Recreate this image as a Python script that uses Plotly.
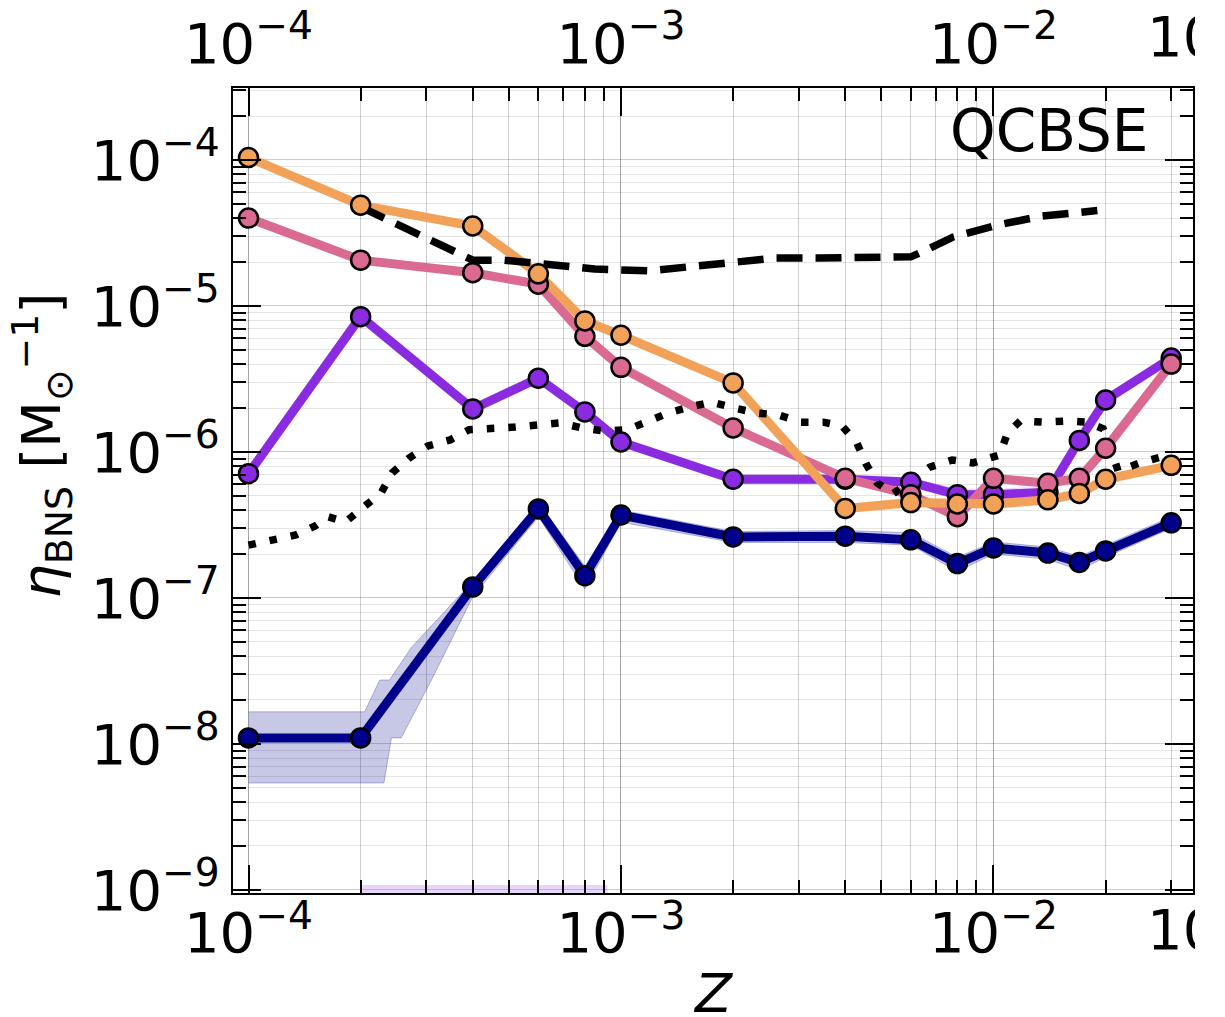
import plotly.graph_objects as go

# ---------------- data ----------------
metallicity = [1e-4, 2e-4, 4e-4, 6e-4, 8e-4, 1e-3, 2e-3, 4e-3, 6e-3, 8e-3,
               1e-2, 1.4e-2, 1.7e-2, 2e-2, 3e-2]

eta_orange = [1.04e-4, 4.9e-5, 3.53e-5, 1.66e-5, 7.9e-6, 6.3e-6, 2.97e-6, 4.1e-7,
              4.5e-7, 4.4e-7, 4.4e-7, 4.7e-7, 5.2e-7, 6.5e-7, 8.1e-7]
eta_pink = [4.0e-5, 2.06e-5, 1.69e-5, 1.41e-5, 6.2e-6, 3.8e-6, 1.46e-6, 6.6e-7,
            5.1e-7, 3.6e-7, 6.6e-7, 6.1e-7, 6.6e-7, 1.06e-6, 4.0e-6]
eta_purple = [7.1e-7, 8.45e-6, 1.97e-6, 3.2e-6, 1.88e-6, 1.17e-6, 6.5e-7, 6.5e-7,
              6.2e-7, 5.1e-7, 5.1e-7, 5.3e-7, 1.2e-6, 2.27e-6, 4.4e-6]
eta_navy = [1.1e-8, 1.1e-8, 1.19e-7, 4.07e-7, 1.42e-7, 3.7e-7, 2.62e-7, 2.65e-7,
            2.5e-7, 1.72e-7, 2.2e-7, 2.03e-7, 1.75e-7, 2.1e-7, 3.27e-7]

# uncertainty band of the navy series (upper and lower edges)
navy_hi_z = [1e-4, 2.05e-4, 2.25e-4, 2.39e-4, 2.74e-4, 4e-4, 6e-4, 8e-4, 1e-3, 2e-3,
             4e-3, 6e-3, 8e-3, 1e-2, 1.4e-2, 1.7e-2, 2e-2, 3e-2]
navy_hi = [1.66e-8, 1.66e-8, 2.74e-8, 2.74e-8, 4.6e-8, 1.3e-7, 4.5e-7, 1.65e-7, 4.0e-7,
           2.85e-7, 2.9e-7, 2.8e-7, 1.9e-7, 2.42e-7, 2.23e-7, 1.93e-7, 2.3e-7, 3.6e-7]
navy_lo_z = [1e-4, 2.31e-4, 2.42e-4, 2.57e-4, 3.1e-4, 4e-4, 6e-4, 8e-4, 1e-3, 2e-3,
             4e-3, 6e-3, 8e-3, 1e-2, 1.4e-2, 1.7e-2, 2e-2, 3e-2]
navy_lo = [5.4e-9, 5.4e-9, 1.1e-8, 1.1e-8, 2.74e-8, 1.02e-7, 3.6e-7, 1.15e-7, 3.3e-7,
           2.4e-7, 2.4e-7, 2.3e-7, 1.52e-7, 2.0e-7, 1.84e-7, 1.55e-7, 1.9e-7, 3.0e-7]

# faint uncertainty halos of the purple and orange series
purple_band_z = [2e-3, 4e-3, 6e-3, 8e-3, 1e-2, 1.4e-2]
purple_band_hi = [7.0e-7, 7.0e-7, 6.7e-7, 5.6e-7, 5.6e-7, 5.8e-7]
purple_band_lo = [6.0e-7, 6.0e-7, 5.7e-7, 4.7e-7, 4.7e-7, 4.9e-7]
orange_band_z = [4e-3, 6e-3, 8e-3, 1e-2, 1.4e-2, 1.7e-2, 2e-2, 3e-2]
orange_band_hi = [4.4e-7, 4.85e-7, 4.75e-7, 4.75e-7, 5.05e-7, 5.6e-7, 7.0e-7, 8.7e-7]
orange_band_lo = [3.8e-7, 4.15e-7, 4.05e-7, 4.05e-7, 4.35e-7, 4.8e-7, 6.0e-7, 7.5e-7]

# faint band along the bottom edge
strip_z = [2e-4, 9.2e-4]
strip_hi = [1.08e-9, 1.08e-9]
strip_lo = [1e-10, 1e-10]

# black dashed curve
dashed_z = [2.0e-4, 4.0e-4, 4.85e-4, 6.5e-4, 8.5e-4, 1.19e-3, 1.5e-3, 1.98e-3, 2.6e-3,
            3.4e-3, 4.6e-3, 6.0e-3, 6.6e-3, 7.8e-3, 1.03e-2, 1.35e-2, 1.9e-2]
dashed_eta = [4.77e-5, 2.06e-5, 2.06e-5, 1.91e-5, 1.79e-5, 1.74e-5, 1.85e-5, 2.0e-5, 2.13e-5,
              2.13e-5, 2.13e-5, 2.17e-5, 2.42e-5, 2.97e-5, 3.59e-5, 4.13e-5, 4.5e-5]

# black dotted curve
dotted_z = [1.0e-4, 1.18e-4, 1.34e-4, 1.51e-4, 1.64e-4, 1.82e-4, 2.03e-4, 2.27e-4, 2.43e-4,
            2.70e-4, 3.03e-4, 3.48e-4, 3.91e-4, 4.53e-4, 5.19e-4, 5.98e-4, 6.86e-4, 7.86e-4,
            9.0e-4, 1.04e-3, 1.17e-3, 1.34e-3, 1.53e-3, 1.75e-3, 2.01e-3, 2.32e-3, 2.65e-3,
            3.04e-3, 3.49e-3, 3.92e-3, 4.30e-3, 4.55e-3, 4.87e-3, 5.37e-3, 6.75e-3, 7.74e-3,
            8.81e-3, 1.04e-2, 1.09e-2, 1.18e-2, 1.36e-2, 1.57e-2, 1.79e-2, 1.97e-2, 2.07e-2,
            2.16e-2, 2.47e-2, 2.80e-2, 2.94e-2]
dotted_eta = [2.3e-7, 2.54e-7, 2.70e-7, 3.11e-7, 3.59e-7, 3.32e-7, 4.20e-7, 5.24e-7, 7.18e-7,
              9.09e-7, 1.10e-6, 1.21e-6, 1.42e-6, 1.44e-6, 1.48e-6, 1.53e-6, 1.58e-6, 1.46e-6,
              1.39e-6, 1.42e-6, 1.63e-6, 1.85e-6, 2.03e-6, 2.20e-6, 2.0e-6, 1.85e-6, 1.79e-6,
              1.60e-6, 1.60e-6, 1.51e-6, 1.15e-6, 8.28e-7, 6.14e-7, 5.16e-7, 7.88e-7, 8.81e-7,
              8.41e-7, 9.54e-7, 1.35e-6, 1.63e-6, 1.60e-6, 1.63e-6, 1.60e-6, 1.44e-6, 1.03e-6,
              7.41e-7, 8.41e-7, 9.25e-7, 9.54e-7]

x_tick_vals = [1e-4, 1e-3, 1e-2]
x_tick_text = ["10<sup>−4</sup>", "10<sup>−3</sup>", "10<sup>−2</sup>"]
y_tick_vals = [1e-9, 1e-8, 1e-7, 1e-6, 1e-5, 1e-4]
y_tick_text = ["10<sup>−9</sup>", "10<sup>−8</sup>", "10<sup>−7</sup>",
               "10<sup>−6</sup>", "10<sup>−5</sup>", "10<sup>−4</sup>"]

# ---------------- styles ----------------
C_ORANGE = "#f1a258"
C_PINK = "#da6a92"
C_PURPLE = "#8a2be2"
C_NAVY = "#00008b"
FONT = "DejaVu Sans"
TICK_FS = 56
GRID = "rgba(0,0,0,0.10)"

fig = go.Figure()


def band(xh, yh, xl, yl, color, edge="rgba(0,0,0,0)"):
    fig.add_trace(go.Scatter(x=xh + xl[::-1], y=yh + yl[::-1], mode="lines", fill="toself",
                             fillcolor=color, line=dict(width=1, color=edge),
                             hoverinfo="skip", showlegend=False))


band(strip_z, strip_hi, strip_z, strip_lo, "rgba(138,43,226,0.2)")
band(purple_band_z, purple_band_hi, purple_band_z, purple_band_lo, "rgba(138,43,226,0.18)")
band(orange_band_z, orange_band_hi, orange_band_z, orange_band_lo, "rgba(241,162,88,0.25)")
band(navy_hi_z, navy_hi, navy_lo_z, navy_lo, "rgba(0,0,139,0.22)", "rgba(0,0,139,0.25)")

series = [(eta_navy, C_NAVY), (eta_purple, C_PURPLE), (eta_pink, C_PINK), (eta_orange, C_ORANGE)]
for vals, col in series:
    fig.add_trace(go.Scatter(x=metallicity, y=vals, mode="lines",
                             line=dict(color=col, width=9), showlegend=False))

fig.add_trace(go.Scatter(x=dashed_z, y=dashed_eta, mode="lines",
                         line=dict(color="black", width=7.5, dash="26px,13px"), showlegend=False))
fig.add_trace(go.Scatter(x=dotted_z, y=dotted_eta, mode="lines",
                         line=dict(color="black", width=7.5, dash="7.5px,14px"), showlegend=False))

for vals, col in series:
    fig.add_trace(go.Scatter(x=metallicity, y=vals, mode="markers",
                             marker=dict(color=col, size=19, line=dict(color="black", width=2.5)),
                             showlegend=False))

# dummy trace for the top axis
fig.add_trace(go.Scatter(x=[1e-3], y=[1e-6], xaxis="x2", mode="markers",
                         marker=dict(opacity=0), hoverinfo="skip", showlegend=False))

common = dict(type="log", showline=True, linecolor="black", linewidth=2,
              ticks="inside", ticklen=28, tickwidth=2, tickcolor="black",
              showgrid=True, gridcolor=GRID, gridwidth=1, automargin=False,
              tickfont=dict(family=FONT, size=TICK_FS, color="black"),
              minor=dict(ticks="inside", ticklen=13, tickwidth=1.5, tickcolor="black",
                         dtick="D1", showgrid=True, gridcolor=GRID, gridwidth=1),
              zeroline=False)

xr = [-4.0416, -1.4644]
fig.update_layout(
    width=1187, height=1009,
    margin=dict(l=225, r=2, t=80, b=124),
    paper_bgcolor="white", plot_bgcolor="white",
    font=dict(family=FONT, color="black"),
    xaxis=dict(range=xr, tickmode="array", tickvals=x_tick_vals, ticktext=x_tick_text,
               mirror=False, ticklabelstandoff=-10, **common),
    xaxis2=dict(range=xr, tickmode="array", tickvals=x_tick_vals, ticktext=x_tick_text,
                overlaying="x", side="top", anchor="y", mirror=False, ticklabelstandoff=1,
                **common),
    yaxis=dict(range=[-9.021, -3.507], tickmode="array", tickvals=y_tick_vals,
               ticktext=y_tick_text, mirror="ticks", **common),
    annotations=[
        dict(text="<i>η</i><sub>BNS</sub> [M<sub>⊙</sub><sup>−1</sup>]",
             xref="paper", yref="paper", x=-0.199, y=0.556, textangle=-90,
             xanchor="center", yanchor="middle", showarrow=False,
             font=dict(family=FONT, size=54, color="black")),
        dict(text="<i>Z</i>", xref="paper", yref="paper", x=0.5, y=0.0, yshift=-100,
             xanchor="center", yanchor="middle", showarrow=False,
             font=dict(family=FONT, size=54, color="black")),
        dict(text="QCBSE", xref="paper", yref="paper", x=0.955, y=0.947,
             xanchor="right", yanchor="middle", showarrow=False,
             font=dict(family=FONT, size=58, color="black")),
        dict(text="10<sup>−4</sup>", xref="paper", yref="paper", x=1.0188, y=1.0,
             xanchor="center", yanchor="bottom", yshift=17, showarrow=False,
             font=dict(family=FONT, size=TICK_FS, color="black")),
        dict(text="10<sup>−4</sup>", xref="paper", yref="paper", x=1.0188, y=0.0,
             xanchor="center", yanchor="top", yshift=6, showarrow=False,
             font=dict(family=FONT, size=TICK_FS, color="black")),
    ],
)

fig.write_html("out.html")
